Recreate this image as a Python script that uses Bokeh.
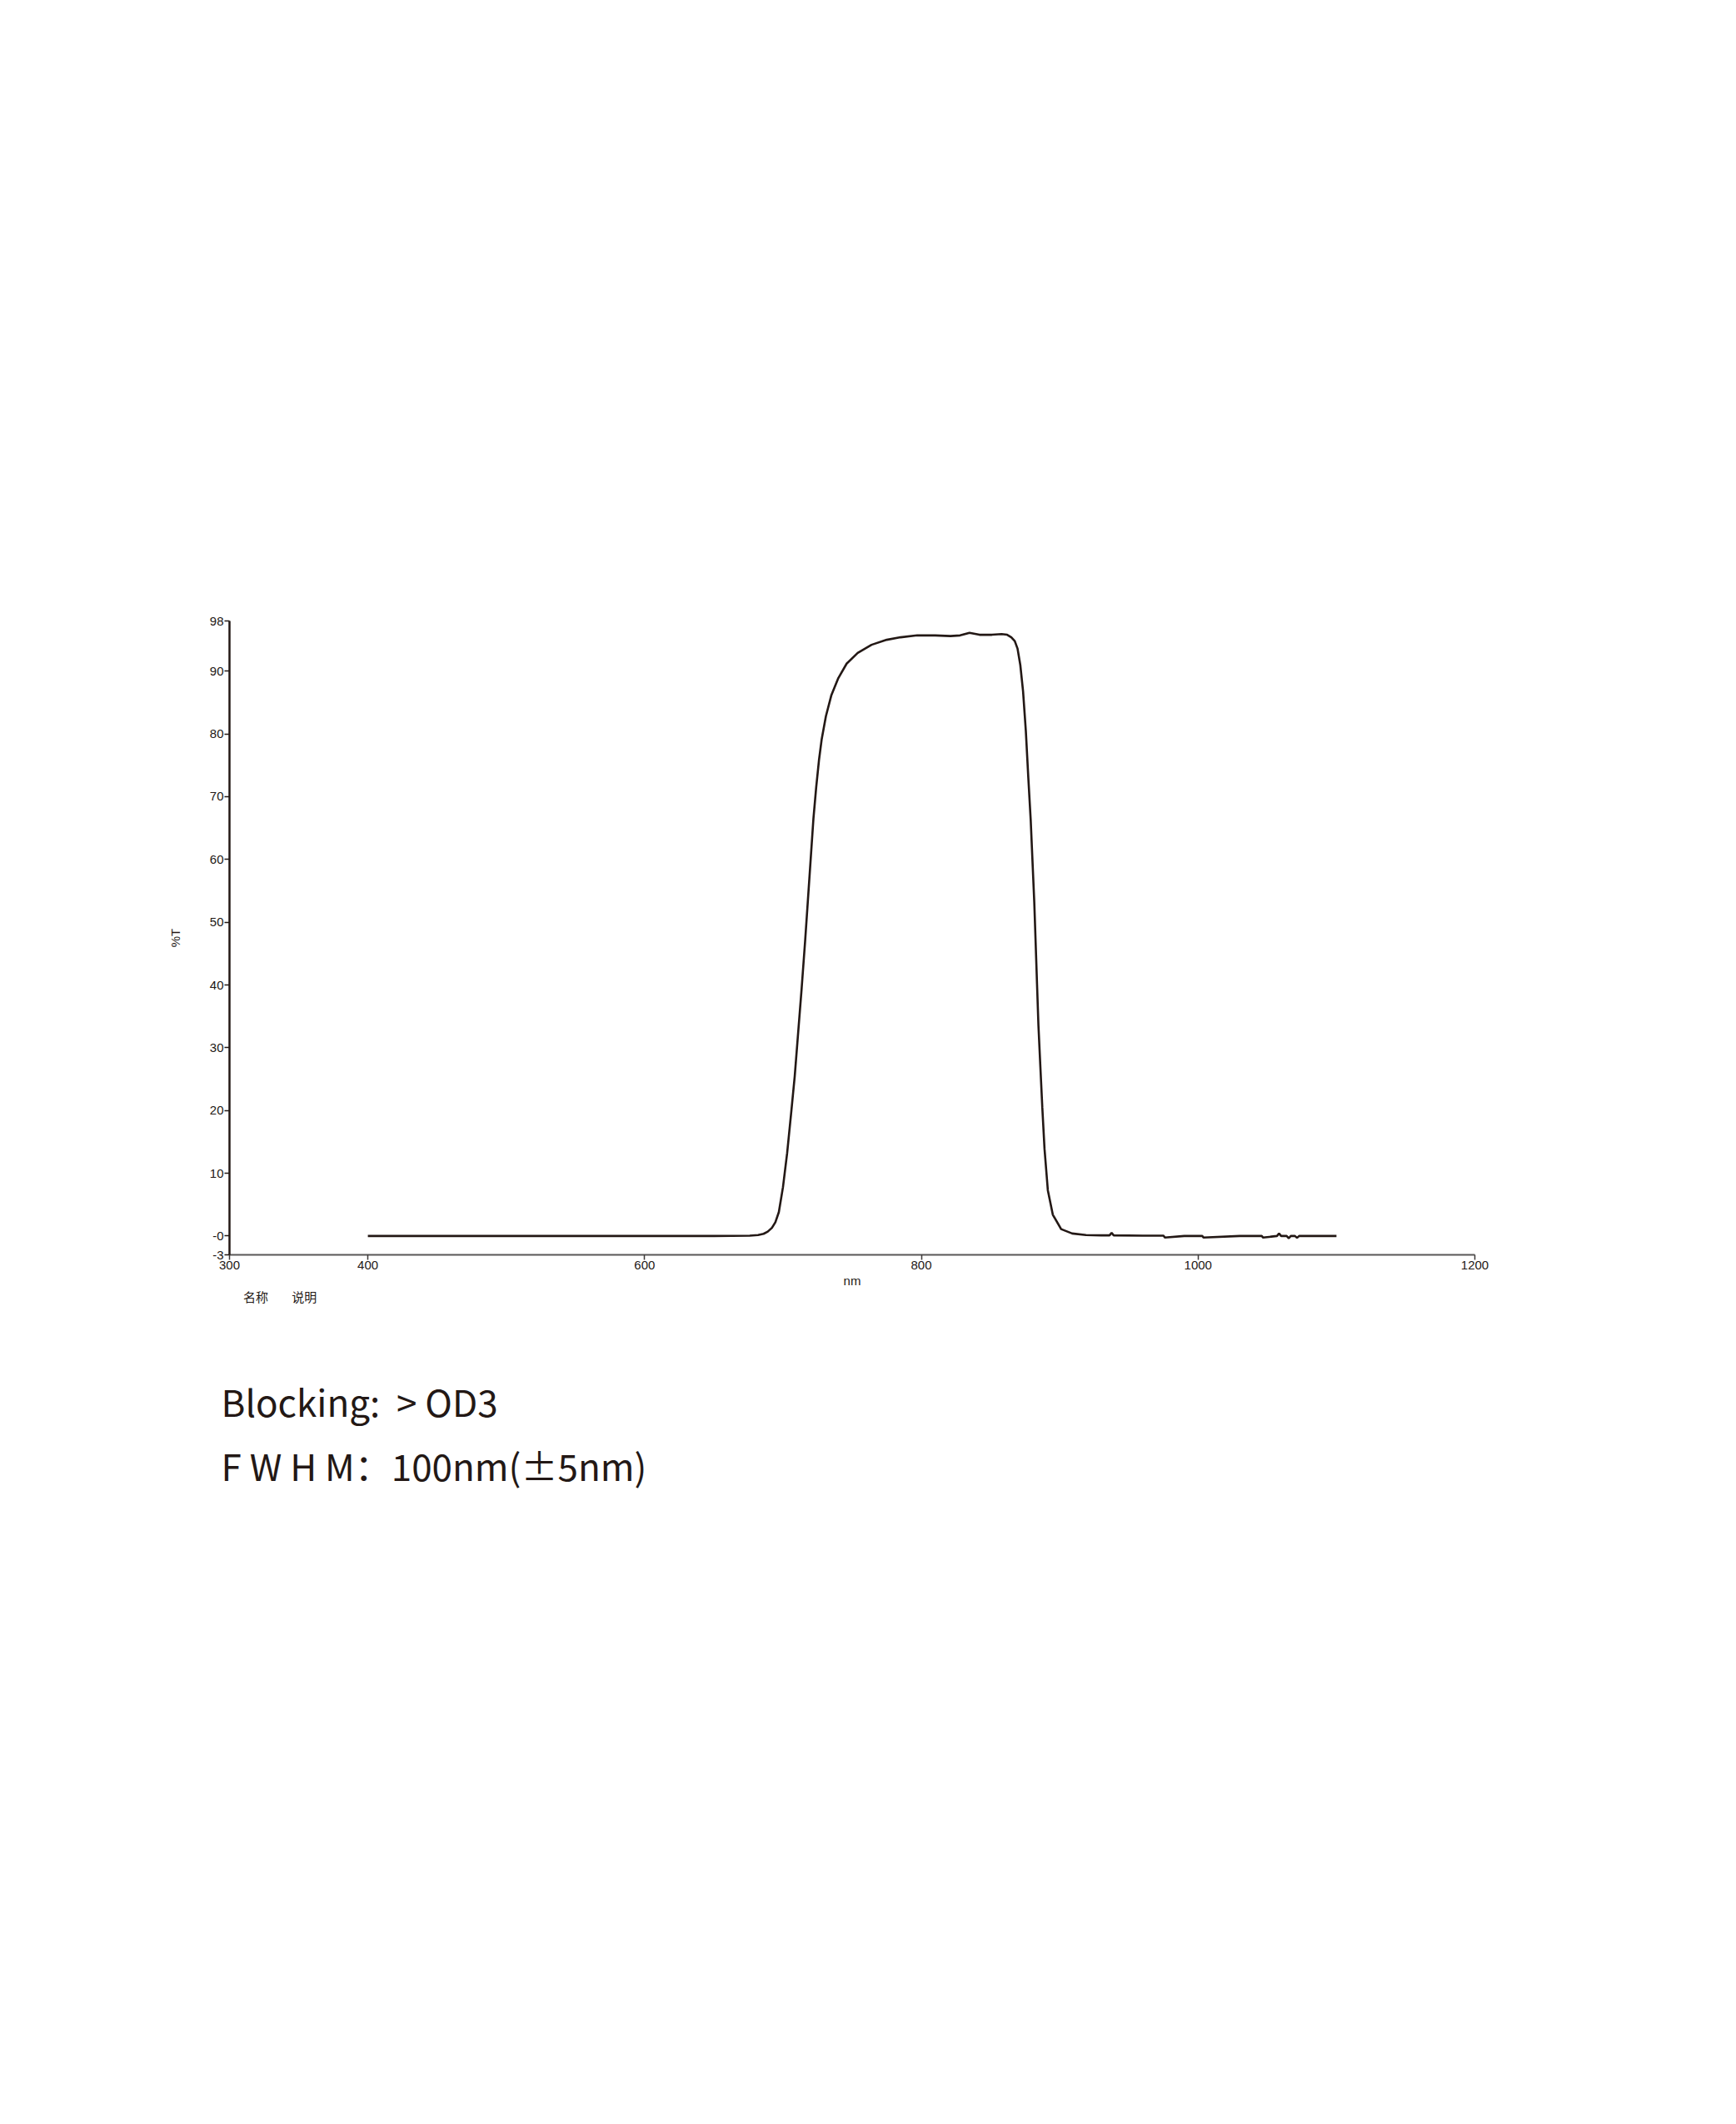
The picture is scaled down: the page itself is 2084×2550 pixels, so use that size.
from bokeh.plotting import figure
from bokeh.models import Range1d, FixedTicker, LinearAxis
from bokeh.layouts import column
from bokeh.core.properties import value
from bokeh.embed import file_html
from bokeh.resources import INLINE

# ---- data ----
wavelength = [400, 500, 600, 650, 676, 682, 686, 689, 692, 694.5, 697, 700, 703, 706,
              708.5, 711, 713.5, 716, 718, 720, 722, 724, 726, 728,
              731, 735, 740, 746, 754, 764, 775, 785, 797, 810,
              821, 828, 834.8, 842, 851, 858, 862, 865, 867.5, 869.5,
              871.5, 873.5, 875.5, 877.3, 879, 880.3, 881.6, 882.6, 883.6, 884.6,
              886, 887.4, 889, 891.4, 895, 901, 909, 919, 930, 936,
              937.5, 939, 960, 975, 976, 990, 1003, 1004, 1030, 1046,
              1047, 1057, 1058.5, 1060, 1064, 1065.5, 1067, 1070, 1071.5, 1073,
              1100]
transmission = [0.0, 0.0, 0.0, 0.0, 0.05, 0.15, 0.35, 0.7, 1.3, 2.2, 3.8, 7.8, 13.2, 19.8,
                25.5, 32.5, 39.5, 47.0, 53.5, 60.0, 66.5, 71.5, 75.8, 79.2,
                82.8, 86.2, 88.9, 91.2, 92.9, 94.2, 95.0, 95.4, 95.7, 95.7,
                95.6, 95.7, 96.1, 95.8, 95.8, 95.9, 95.8, 95.4, 94.8, 93.6,
                91.0, 86.8, 80.5, 73.0, 66.4, 59.8, 53.2, 46.7, 40.1, 33.6,
                27.0, 20.5, 13.9, 7.3, 3.4, 1.1, 0.4, 0.15, 0.1, 0.1,
                0.5, 0.1, 0.05, 0.05, -0.25, 0.0, 0.0, -0.25, 0.0, 0.0,
                -0.25, 0.0, 0.4, 0.0, 0.0, -0.35, 0.0, 0.0, -0.3, 0.0,
                0.0]
x_ticks = [300, 400, 600, 800, 1000, 1200]
y_ticks = [-3, 0, 10, 20, 30, 40, 50, 60, 70, 80, 90, 98]
y_tick_labels = {0: "-0", -3: "-3"}
x_title = "nm"
y_title = "%T"
legend_words = ["名称", "说明"]
notes = ["Blocking:\u00a0\u00a0>\u00a0OD3", "F\u00a0W\u00a0H\u00a0M：100nm(±5nm)"]

INK = "#231815"
TICK_FONT = "Liberation Sans"
PAGE_W, PAGE_H = 2084, 2550
TOP_H = 1580

# ---- chart ----
p = figure(width=PAGE_W, height=TOP_H, output_backend="svg", toolbar_location=None,
           x_range=Range1d(300, 1200), y_range=Range1d(-3, 98),
           min_border_left=275, min_border_right=314,
           min_border_top=745, min_border_bottom=TOP_H - 745 - 761)
p.frame_align = False
p.outline_line_color = None
p.xgrid.visible = False
p.ygrid.visible = False
p.background_fill_color = "white"
p.border_fill_color = "white"

p.line(wavelength, transmission, line_color=INK, line_width=2.6)

xa = p.xaxis[0]
xa.ticker = FixedTicker(ticks=x_ticks)
xa.axis_line_color = "#595757"
xa.axis_line_width = 2
xa.major_tick_line_color = "#3e3a39"
xa.major_tick_line_width = 1.5
xa.major_tick_out = 6
xa.major_tick_in = 0
xa.minor_tick_line_color = None
xa.major_label_standoff = 1
xa.major_label_text_font = TICK_FONT
xa.major_label_text_font_size = "15px"
xa.major_label_text_color = INK
xa.axis_label = x_title
xa.axis_label_standoff = 2
xa.axis_label_text_font = TICK_FONT
xa.axis_label_text_font_size = "15px"
xa.axis_label_text_font_style = "normal"
xa.axis_label_text_color = INK

ya = p.yaxis[0]
ya.ticker = FixedTicker(ticks=y_ticks)
ya.major_label_overrides = y_tick_labels
ya.axis_line_color = INK
ya.axis_line_width = 2.5
ya.major_tick_line_color = INK
ya.major_tick_line_width = 1.5
ya.major_tick_out = 6
ya.major_tick_in = 0
ya.minor_tick_line_color = None
ya.major_label_standoff = 1
ya.major_label_text_font = TICK_FONT
ya.major_label_text_font_size = "15px"
ya.major_label_text_color = INK
ya.axis_label = y_title
ya.axis_label_standoff = 30
ya.axis_label_text_font = TICK_FONT
ya.axis_label_text_font_size = "15px"
ya.axis_label_text_font_style = "normal"
ya.axis_label_text_color = INK

# small "名称 / 说明" captions as a bare second axis under the x axis
legend_pos = [319, 354]
cap = LinearAxis(ticker=FixedTicker(ticks=legend_pos),
                 major_label_overrides={k: w for k, w in zip(legend_pos, legend_words)})
cap.axis_line_color = None
cap.major_tick_line_color = None
cap.minor_tick_line_color = None
cap.major_tick_out = 0
cap.major_tick_in = 0
cap.major_label_standoff = -3
cap.major_label_text_font = "Noto Sans CJK SC"
cap.major_label_text_font_size = "15px"
cap.major_label_text_color = INK
p.add_layout(cap, "below")

# ---- text block under the chart (page pixels, y downward) ----
bh = PAGE_H - TOP_H
q = figure(width=PAGE_W, height=bh, output_backend="svg", toolbar_location=None,
           x_range=Range1d(0, PAGE_W), y_range=Range1d(bh, 0),
           x_axis_location=None, y_axis_location=None,
           min_border_left=0, min_border_right=0, min_border_top=0, min_border_bottom=0)
q.frame_align = False
q.outline_line_color = None
q.xgrid.visible = False
q.ygrid.visible = False
q.background_fill_color = "white"
q.border_fill_color = "white"

q.text(x=[265, 265], y=[101, 178], text=notes,
       text_font=value("Noto Sans CJK SC"), text_font_size="44px",
       text_color=INK, text_align="left", text_baseline="alphabetic")

layout = column(p, q, spacing=0)
open("out.html", "w").write(file_html(layout, INLINE))
